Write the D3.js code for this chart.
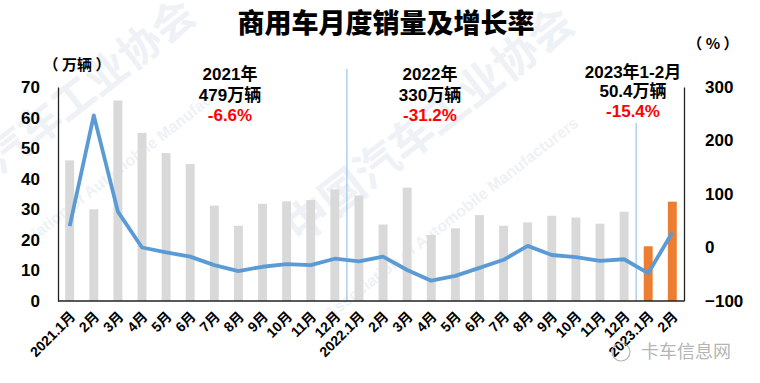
<!DOCTYPE html>
<html>
<head>
<meta charset="utf-8">
<script src="https://cdn.jsdelivr.net/npm/d3@7"></script>
<style>
  body { margin: 0; background: #fff; }
  svg { display: block; font-family: "Liberation Sans", "Noto Sans CJK SC", sans-serif; }
</style>
</head>
<body>
<svg id="chart" width="760" height="383"></svg>
<script>
// month labels along the x axis
const months = ["2021.1月","2月","3月","4月","5月","6月","7月","8月","9月","10月","11月","12月",
  "2022.1月","2月","3月","4月","5月","6月","7月","8月","9月","10月","11月","12月",
  "2023.1月","2月"];
// monthly sales, 10k vehicles
const sales = [46, 30, 65.6, 55, 48.4, 44.8, 31.2, 24.6, 31.8, 32.6, 33, 36.5,
  34.5, 25, 37.1, 21.6, 23.8, 28.1, 24.6, 25.7, 27.9, 27.3, 25.3, 29.2,
  17.9, 32.5];
// year-on-year growth, %
const growth = [40, 247, 67, 0, -9, -17, -33, -44, -36, -31, -33, -21,
  -26, -17, -42, -62, -53, -38, -23, 3, -14, -18, -25, -22,
  -48, 28];
const leftTicks = [0, 10, 20, 30, 40, 50, 60, 70];
const rightTicks = [-100, 0, 100, 200, 300];
// period summaries
const periods = [
  {name: "2021年", total: "479万辆", rate: "-6.6%"},
  {name: "2022年", total: "330万辆", rate: "-31.2%"},
  {name: "2023年1-2月", total: "50.4万辆", rate: "-15.4%"}
];

const svg = d3.select("#chart");
const plotL = 58, plotR = 684, plotT = 87, plotB = 301;

// faint watermark
const wm = svg.append("g").attr("fill", "#eef2f6").attr("font-weight", "bold");
wm.append("text").attr("transform", "translate(0,175) rotate(-38)")
  .attr("font-size", 42).attr("font-family", "Noto Sans CJK SC").text("汽车工业协会");
wm.append("text").attr("transform", "translate(300,245) rotate(-38)")
  .attr("font-size", 44).attr("font-family", "Noto Sans CJK SC").text("中国汽车工业协会");
wm.append("text").attr("transform", "translate(30,245) rotate(-38)")
  .attr("font-size", 16).text("ciation of Automobile Manufactu");
wm.append("text").attr("transform", "translate(330,320) rotate(-38)")
  .attr("font-size", 16).text("Association of Automobile Manufacturers");

const x = d3.scaleBand().domain(d3.range(months.length)).range([plotL, plotR]).paddingInner(0.63).paddingOuter(0.3);
const step = x.step();
const yL = d3.scaleLinear().domain([0, 70]).range([plotB, plotT]);
const yR = d3.scaleLinear().domain([-100, 300]).range([plotB, plotT]);

// bars
svg.append("g").selectAll("rect").data(sales).join("rect")
  .attr("x", (d, i) => x(i))
  .attr("width", x.bandwidth())
  .attr("y", d => yL(d))
  .attr("height", d => yL(0) - yL(d))
  .attr("fill", (d, i) => i >= 24 ? "#ED7D31" : "#D9D9D9");

// year separators
const sepX = i => x(i) + x.bandwidth() / 2 - step / 2;
svg.append("line").attr("x1", sepX(12)).attr("x2", sepX(12)).attr("y1", 69).attr("y2", plotB)
  .attr("stroke", "#9DC3E6").attr("stroke-width", 1.2);
svg.append("line").attr("x1", sepX(24)).attr("x2", sepX(24)).attr("y1", 123).attr("y2", plotB)
  .attr("stroke", "#9DC3E6").attr("stroke-width", 1.2);

// growth line
const line = d3.line().x((d, i) => x(i) + x.bandwidth() / 2).y(d => yR(d));
svg.append("path").datum(growth).attr("d", line)
  .attr("fill", "none").attr("stroke", "#5B9BD5").attr("stroke-width", 3.8)
  .attr("stroke-linejoin", "round");

// axes
const axL = svg.append("g").attr("transform", `translate(${plotL},0)`)
  .call(d3.axisLeft(yL).tickValues(leftTicks).tickSize(0).tickPadding(18));
const axR = svg.append("g").attr("transform", `translate(${plotR},0)`)
  .call(d3.axisRight(yR).tickValues(rightTicks).tickSize(0).tickPadding(21));
[axL, axR].forEach(a => {
  a.select(".domain").attr("stroke", "#222").attr("stroke-width", 1.3);
  a.selectAll("text").attr("font-size", 17).attr("font-weight", "bold").attr("fill", "#000")
    .attr("font-family", "Liberation Sans");
});
svg.append("line").attr("x1", plotL).attr("x2", plotR).attr("y1", plotB).attr("y2", plotB)
  .attr("stroke", "#222").attr("stroke-width", 1.3);

// x labels
svg.append("g").selectAll("text").data(months).join("text")
  .attr("transform", (d, i) => `translate(${x(i) + x.bandwidth() / 2 + 3},${plotB + 13}) rotate(-45)`)
  .attr("text-anchor", "end")
  .attr("dy", "0.35em")
  .attr("font-size", 14).attr("font-weight", "bold").attr("fill", "#000")
  .text(d => d);

// title & units
svg.append("text").attr("x", 386).attr("y", 33).attr("text-anchor", "middle")
  .attr("font-size", 27).attr("font-weight", 900).attr("font-family", "Noto Sans CJK SC")
  .attr("fill", "#000").text("商用车月度销量及增长率");
svg.append("text").attr("x", 77).attr("y", 70).attr("text-anchor", "middle")
  .attr("font-size", 15).attr("font-weight", "bold").attr("font-family", "Noto Sans CJK SC")
  .text("（ 万辆 ）");
svg.append("text").attr("x", 713).attr("y", 49).attr("text-anchor", "middle")
  .attr("font-size", 15).attr("font-weight", "bold").attr("font-family", "Noto Sans CJK SC")
  .text("（ % ）");

// period annotations
const annX = [230, 430, 633];
const annY = [[80, 101, 121], [80, 101, 121], [78, 97, 117]];
periods.forEach((p, i) => {
  const g = svg.append("g").attr("text-anchor", "middle").attr("font-size", 17).attr("font-weight", "bold");
  g.append("text").attr("x", annX[i]).attr("y", annY[i][0]).attr("fill", "#000").text(p.name);
  g.append("text").attr("x", annX[i]).attr("y", annY[i][1]).attr("fill", "#000").text(p.total);
  g.append("text").attr("x", annX[i]).attr("y", annY[i][2]).attr("fill", "#FF0000").text(p.rate);
});

// source mark
const src = svg.append("g").attr("fill", "#b5b5b5");
src.append("circle").attr("cx", 621).attr("cy", 352).attr("r", 9).attr("fill", "none")
  .attr("stroke", "#b5b5b5").attr("stroke-width", 1.2);
src.append("text").attr("x", 641).attr("y", 358).attr("font-size", 18)
  .attr("font-family", "Noto Sans CJK SC").text("卡车信息网");
</script>
</body>
</html>
